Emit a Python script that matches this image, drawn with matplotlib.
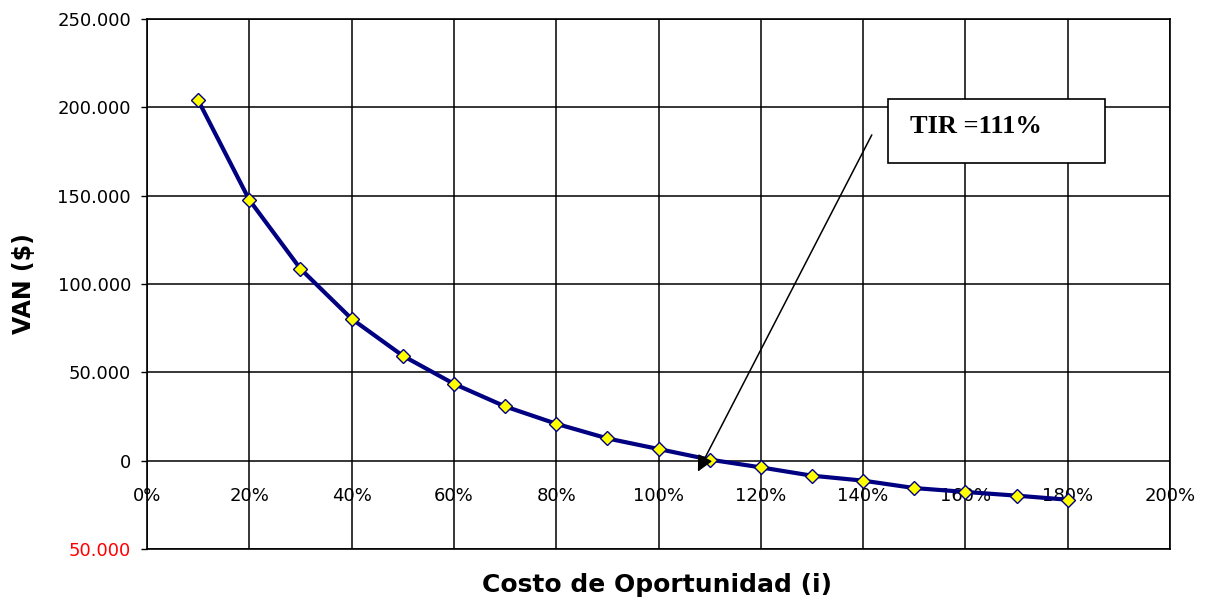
import matplotlib
matplotlib.use("Agg")
import matplotlib.pyplot as plt
from matplotlib.patches import Rectangle

# data
tasa = [10, 20, 30, 40, 50, 60, 70, 80, 90, 100, 110, 120, 130, 140, 150, 160, 170, 180]
van = [204000, 147600, 108600, 80300, 59400, 43500, 30700, 20900, 12600, 6600,
       600, -3800, -8500, -11300, -15500, -17700, -19800, -22100]

xticks = [0, 20, 40, 60, 80, 100, 120, 140, 160, 180, 200]
xlabels = ["0%", "20%", "40%", "60%", "80%", "100%", "120%", "140%", "160%", "180%", "200%"]
yticks = [-50000, 0, 50000, 100000, 150000, 200000, 250000]
ylabels = ["50.000", "0", "50.000", "100.000", "150.000", "200.000", "250.000"]

tir_text = "TIR =111%"

plt.rcParams['font.family'] = ['DejaVu Sans']

fig = plt.figure(figsize=(12.07, 6.0), dpi=100)
ax = fig.add_axes([147/1207, 51/600, 1023/1207, 530/600])

ax.set_xlim(0, 200)
ax.set_ylim(-50000, 250000)
ax.set_xticks(xticks)
ax.set_xticklabels([])
ax.tick_params(axis='x', length=0)
ax.set_yticks(yticks)
ax.set_yticklabels(ylabels, fontsize=13)
ax.tick_params(axis='y', length=4.5, width=1, pad=7, color='black')
ax.get_yticklabels()[0].set_color('red')
ax.grid(True, color='black', linewidth=1.1)
ax.set_axisbelow(True)
for sp in ax.spines.values():
    sp.set_color('black')
    sp.set_linewidth(1.2)

# x tick labels sit just under the zero line
sec = ax.secondary_xaxis(1/6)
sec.set_xticks(xticks)
sec.set_xticklabels(xlabels, fontsize=13)
sec.tick_params(length=0, pad=19)
sec.spines['bottom'].set_visible(False)

ax.plot(tasa, van, color='#000080', linewidth=3, marker='D', markersize=7.5,
        markerfacecolor='#ffff00', markeredgecolor='#000080', markeredgewidth=1,
        zorder=5)

# TIR box + arrow
ax.add_patch(Rectangle((144.9, 168550), 42.4, 36200, facecolor='white',
                       edgecolor='black', linewidth=1.2, zorder=6))
ax.text(149.2, 188900, tir_text, fontsize=19, fontweight='bold',
        family=['Liberation Serif', 'DejaVu Serif'], va='center', ha='left', zorder=7)
ax.annotate("", xy=(107.7, -6200), xytext=(141.7, 184400),
            arrowprops=dict(arrowstyle='-|>', color='black', lw=1.1,
                            mutation_scale=24, shrinkA=0, shrinkB=0),
            zorder=6)

fig.text(656.5/1207, 8/600, "Costo de Oportunidad (i)", fontsize=18,
         fontweight='bold', ha='center', va='baseline')
fig.text(24/1207, 316/600, "VAN ($)", fontsize=17, fontweight='bold',
         rotation=90, ha='center', va='center')

fig.savefig("out.png", dpi=100)
